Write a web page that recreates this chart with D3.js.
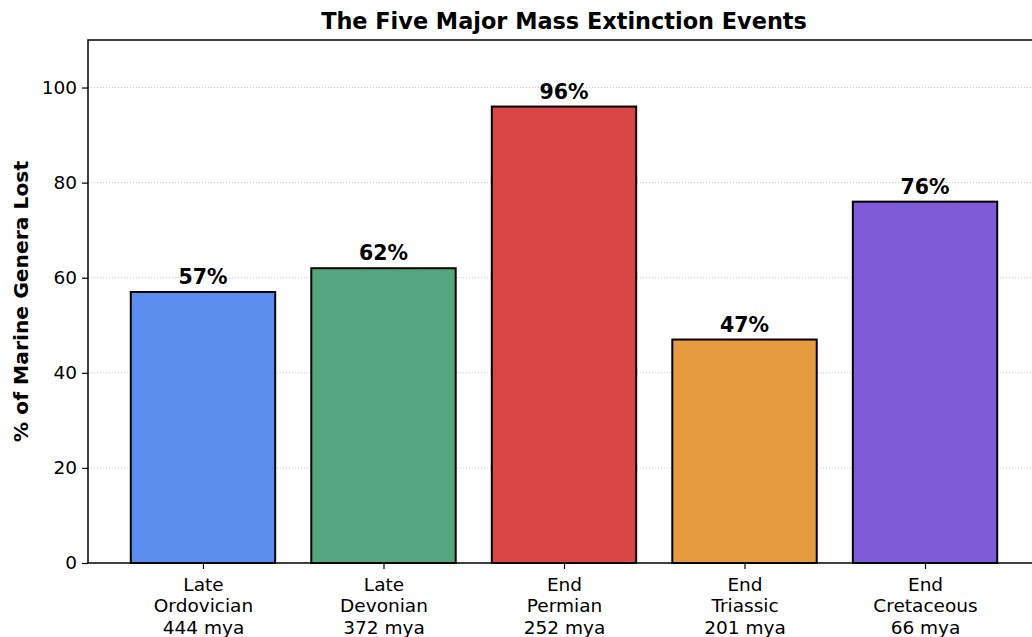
<!DOCTYPE html>
<html>
<head>
<meta charset="utf-8">
<script src="https://cdn.jsdelivr.net/npm/d3@7"></script>
<style>
  body { margin: 0; background: #fff; }
  svg { font-family: "DejaVu Sans", sans-serif; }
</style>
</head>
<body>
<svg id="chart" width="1032" height="637"></svg>
<script>
// extinction events
const events = [
  ["Late", "Ordovician", "444 mya"],
  ["Late", "Devonian", "372 mya"],
  ["End", "Permian", "252 mya"],
  ["End", "Triassic", "201 mya"],
  ["End", "Cretaceous", "66 mya"]
];
const lost = [57, 62, 96, 47, 76];
const colors = ["#5b8def", "#52a77f", "#d94646", "#e69c3e", "#7e5cd9"];
const yTicks = [0, 20, 40, 60, 80, 100];

const MARGIN = { TOP: 40, LEFT: 88, RIGHT: -8, BOTTOM: 74 };
const width = 1032, height = 637;

const svg = d3.select("#chart");

const x = d3.scaleLinear()
  .domain([-0.637, events.length - 1 + 0.637])
  .range([MARGIN.LEFT, width - MARGIN.RIGHT]);
const y = d3.scaleLinear()
  .domain([0, 110])
  .range([height - MARGIN.BOTTOM, MARGIN.TOP]);

const barW = x(0.8) - x(0);

// grid
svg.append("g")
  .selectAll("line")
  .data(yTicks.slice(1))
  .enter()
  .append("line")
  .attr("x1", x.range()[0])
  .attr("x2", x.range()[1])
  .attr("y1", d => y(d))
  .attr("y2", d => y(d))
  .attr("stroke", "#c8c8c8")
  .attr("stroke-width", 1)
  .attr("stroke-dasharray", "1,2");

// bars
svg.append("g")
  .selectAll("rect")
  .data(lost)
  .enter()
  .append("rect")
  .attr("x", (d, i) => x(i) - barW / 2)
  .attr("y", d => y(d))
  .attr("width", barW)
  .attr("height", d => y(0) - y(d))
  .attr("fill", (d, i) => colors[i])
  .attr("stroke", "#000")
  .attr("stroke-width", 2);

// value labels
svg.append("g")
  .selectAll("text")
  .data(lost)
  .enter()
  .append("text")
  .attr("x", (d, i) => x(i))
  .attr("y", d => y(d) - 8)
  .attr("text-anchor", "middle")
  .attr("font-size", 20.5)
  .attr("font-weight", "bold")
  .text(d => d + "%");

// spines
svg.append("rect")
  .attr("x", x.range()[0])
  .attr("y", y.range()[1])
  .attr("width", x.range()[1] - x.range()[0])
  .attr("height", y.range()[0] - y.range()[1])
  .attr("fill", "none")
  .attr("stroke", "#000")
  .attr("stroke-width", 1.5);

// y axis
const yAxis = svg.append("g")
  .attr("transform", `translate(${MARGIN.LEFT},0)`)
  .call(d3.axisLeft(y).tickValues(yTicks).tickSize(6).tickPadding(5));
yAxis.select(".domain").remove();
yAxis.selectAll(".tick line").attr("stroke-width", 1.2);
yAxis.selectAll("text")
  .attr("font-size", 18.5)
  .attr("font-family", "DejaVu Sans")
  .attr("fill", "#000");

// x axis
const xAxis = svg.append("g")
  .attr("transform", `translate(0,${y(0)})`)
  .call(d3.axisBottom(x).tickValues(d3.range(events.length)).tickSize(6).tickFormat(""));
xAxis.select(".domain").remove();
xAxis.selectAll(".tick line").attr("stroke-width", 1.2);
xAxis.selectAll(".tick")
  .append("text")
  .attr("fill", "#000")
  .attr("font-size", 18.5)
  .attr("font-family", "DejaVu Sans")
  .attr("text-anchor", "middle")
  .selectAll("tspan")
  .data((d, i) => events[i])
  .enter()
  .append("tspan")
  .attr("x", 0)
  .attr("y", (d, j) => 28 + j * 21.3)
  .text(d => d);

// title
svg.append("text")
  .attr("x", (x.range()[0] + x.range()[1]) / 2)
  .attr("y", 29)
  .attr("text-anchor", "middle")
  .attr("font-size", 22.4)
  .attr("font-weight", "bold")
  .text("The Five Major Mass Extinction Events");

// y label
svg.append("text")
  .attr("transform", `translate(28,${(y.range()[0] + y.range()[1]) / 2}) rotate(-90)`)
  .attr("text-anchor", "middle")
  .attr("font-size", 20.3)
  .attr("font-weight", "bold")
  .text("% of Marine Genera Lost");
</script>
</body>
</html>
